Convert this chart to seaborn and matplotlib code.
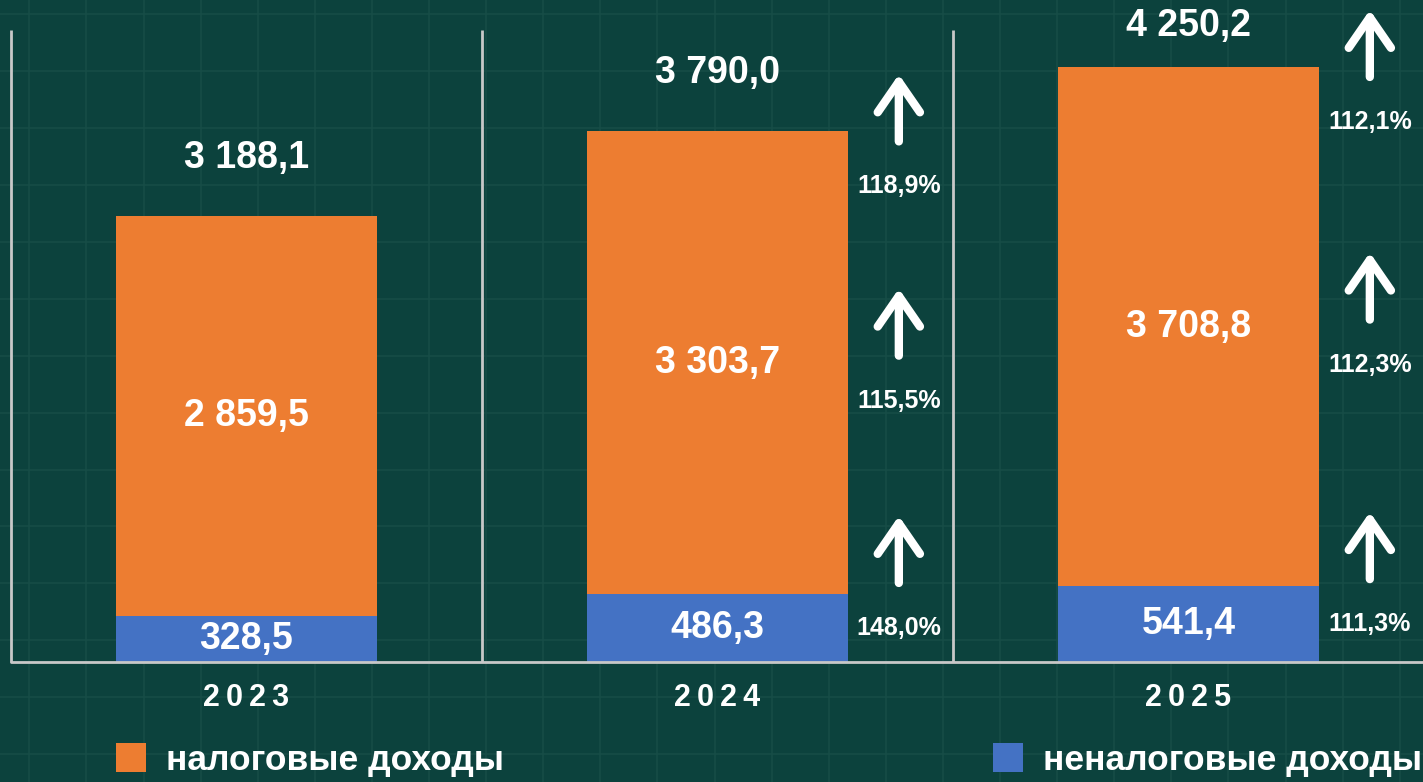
import numpy as np
import matplotlib
matplotlib.use("Agg")
import matplotlib.pyplot as plt
from matplotlib.patches import Patch
import seaborn as sns

# --- Data ---
years = ["2023", "2024", "2025"]
tax_income = [2859.5, 3303.7, 3708.8]
nontax_income = [328.5, 486.3, 541.4]
total_income = [3188.1, 3790.0, 4250.2]
growth_total = [None, 118.9, 112.1]
growth_tax = [None, 115.5, 112.3]
growth_nontax = [None, 148.0, 111.3]

# --- Style ---
BG = "#0c423d"
GRID = "#174d47"
ORANGE = "#ed7d31"
BLUE = "#4472c4"
LINE = "#c8c8c8"

sns.set_style("dark")
plt.rcParams["font.family"] = ["Liberation Sans", "DejaVu Sans"]


def fmt_num(v):
    return f"{v:,.1f}".replace(",", " ").replace(".", ",")


def fmt_pct(v):
    return f"{v:.1f}%".replace(".", ",")


W, H = 1423, 782
fig = plt.figure(figsize=(W / 100, H / 100), dpi=100, facecolor=BG)

# background grid over the whole picture
bg = fig.add_axes([0, 0, 1, 1], zorder=-1)
bg.set_facecolor(BG)
bg.set_xlim(0, W)
bg.set_ylim(H, 0)
bg.vlines(np.arange(29.3, W, 57.1), 0, H, color=GRID, lw=1.1)
bg.hlines(np.arange(14.3, H, 56.9), 0, W, color=GRID, lw=1.1)
bg.axis("off")

# main axes: baseline at y=662 px
base_px = 662
ax = fig.add_axes([11 / W, (H - base_px) / H, 1413 / W, base_px / H])
ax.set_facecolor("none")
ytop = base_px / 0.14
PX = ytop / base_px  # data units per pixel

sns.barplot(x=years, y=total_income, color=ORANGE, width=0.556, saturation=1,
            linewidth=0, ax=ax)
sns.barplot(x=years, y=nontax_income, color=BLUE, width=0.556, saturation=1,
            linewidth=0, ax=ax)

ax.set_xlim(-0.5, 2.5)
ax.set_ylim(0, ytop)
for s in ax.spines.values():
    s.set_visible(False)
ax.set_yticks([])
ax.set_ylabel("")
ax.grid(False)

# separators and baseline
ax.vlines([-0.5, 0.5, 1.5], 0, (base_px - 30) * PX, color=LINE, lw=2, clip_on=False)
ax.axhline(0, color=LINE, lw=2, clip_on=False)

# year labels
ax.set_xticks(range(len(years)))
ax.set_xticklabels(["\u2009".join(y) for y in years], fontsize=22,
                   fontweight="bold", color="white")
ax.tick_params(axis="x", length=0, pad=15)

for i in range(len(years)):
    # value labels
    ax.text(i, nontax_income[i] / 2, fmt_num(nontax_income[i]), ha="center",
            va="center", color="white", fontsize=27, fontweight="bold")
    ax.text(i, nontax_income[i] + tax_income[i] / 2, fmt_num(tax_income[i]),
            ha="center", va="center", color="white", fontsize=27, fontweight="bold")
    top_y = min(total_income[i] + 58 * PX, ytop - 26 * PX)
    ax.text(i, top_y, fmt_num(total_income[i]), ha="center",
            va="center", color="white", fontsize=27, fontweight="bold", clip_on=False)

    if growth_total[i] is None:
        continue
    xr = i + 0.385
    label_ys = [
        (growth_nontax[i], nontax_income[i] / 2),
        (growth_tax[i], nontax_income[i] + tax_income[i] / 2 - 38 * PX),
        (growth_total[i], total_income[i] - 55 * PX),
    ]
    for g, ly in label_ys:
        ax.text(xr, ly, fmt_pct(g), ha="center", va="center", color="white",
                fontsize=18, fontweight="bold", clip_on=False)
        ax.annotate("", xy=(xr, ly + 112 * PX), xytext=(xr, ly + 45 * PX),
                    annotation_clip=False,
                    arrowprops=dict(arrowstyle="->,head_length=0.55,head_width=0.38",
                                    mutation_scale=40, lw=6, color="white",
                                    shrinkA=0, shrinkB=0, capstyle="round",
                                    joinstyle="round"))

# legend
leg_font = {"weight": "bold", "size": 25.5}
leg_kw = dict(loc="center left", frameon=False, prop=leg_font, labelcolor="white",
              handlelength=0.85, handleheight=0.85, handletextpad=0.55,
              borderpad=0, borderaxespad=0)
fig.legend(handles=[Patch(facecolor=ORANGE, edgecolor="none", label="налоговые доходы")],
           bbox_to_anchor=(116 / W, 1 - 760 / H), **leg_kw)
fig.legend(handles=[Patch(facecolor=BLUE, edgecolor="none", label="неналоговые доходы")],
           bbox_to_anchor=(993 / W, 1 - 760 / H), **leg_kw)

fig.savefig("out.png", dpi=100, facecolor=BG)
